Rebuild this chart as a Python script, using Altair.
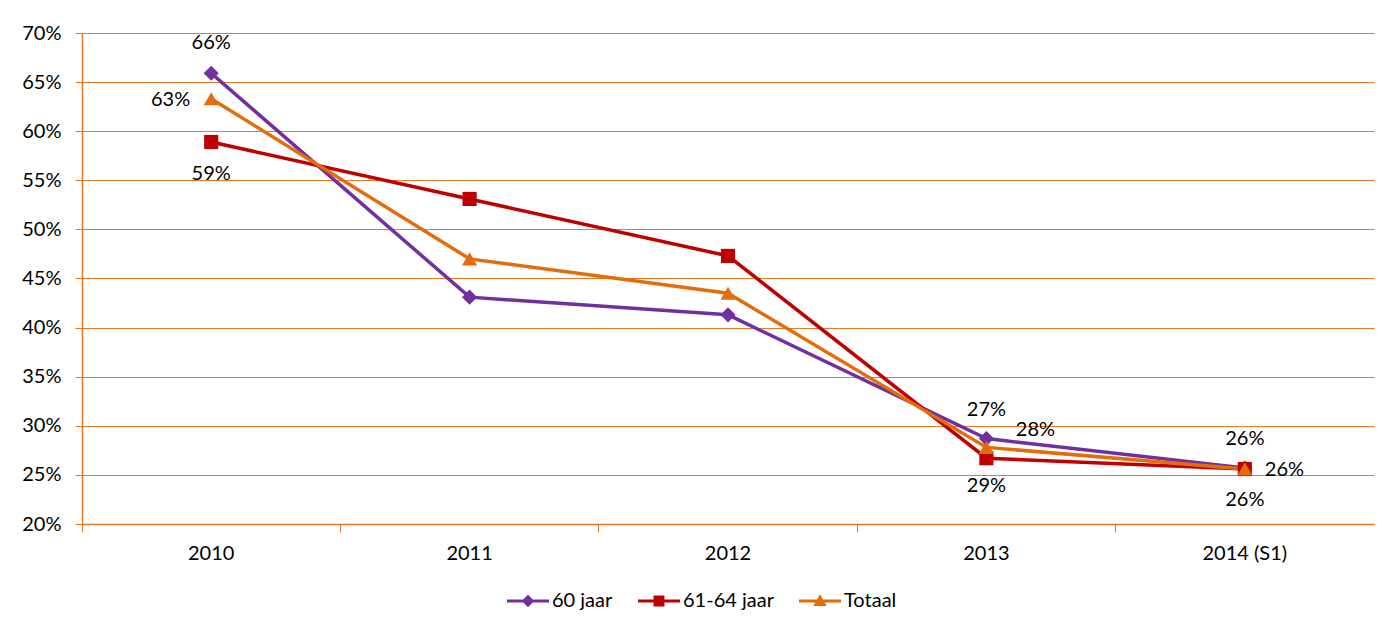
import altair as alt
import pandas as pd

years = ["2010", "2011", "2012", "2013", "2014 (S1)"]
series_names = ["60 jaar", "61-64 jaar", "Totaal"]
v_60 = [0.659, 0.431, 0.413, 0.287, 0.257]
v_6164 = [0.589, 0.531, 0.473, 0.267, 0.256]
v_tot = [0.633, 0.470, 0.435, 0.278, 0.256]
y_ticks = [0.20, 0.25, 0.30, 0.35, 0.40, 0.45, 0.50, 0.55, 0.60, 0.65, 0.70]

colors = ["#7030A0", "#C00000", "#E46C0A"]
GRID = "#E8792A"
FONT = "Lato"
FS = 20

rows = []
for s, vals in zip(series_names, [v_60, v_6164, v_tot]):
    for y, v in zip(years, vals):
        rows.append({"series": s, "year": y, "value": v})
df = pd.DataFrame(rows)

x_enc = alt.X("year:N", sort=years,
              scale=alt.Scale(type="band", domain=years, paddingInner=0, paddingOuter=0),
              axis=alt.Axis(title=None, bandPosition=0, labelAngle=0, grid=False,
                            domainColor=GRID, domainWidth=1.5, tickColor=GRID,
                            tickSize=8, labelPadding=11, labelFontSize=FS,
                            labelFont=FONT, labelColor="#000"))
y_enc = alt.Y("value:Q",
              scale=alt.Scale(domain=[0.2, 0.7], nice=False, zero=False),
              axis=alt.Axis(title=None, values=y_ticks, format=".0%", grid=True,
                            gridColor=GRID, gridWidth=1, domainColor=GRID,
                            domainWidth=1.5, tickColor=GRID, tickSize=7,
                            labelPadding=14, labelFontSize=FS, labelFont=FONT,
                            labelColor="#000"))
color_scale = alt.Scale(domain=series_names, range=colors)

base = alt.Chart(df)

lines = base.mark_line(strokeWidth=3.5).encode(
    x=x_enc, y=y_enc,
    color=alt.Color("series:N", scale=color_scale, legend=None))

point_shapes = {"60 jaar": ("diamond", 230), "61-64 jaar": ("square", 200), "Totaal": ("triangle-up", 230)}
points = []
for s in series_names:
    shp, sz = point_shapes[s]
    points.append(
        base.transform_filter(alt.datum.series == s)
        .mark_point(shape=shp, filled=True, size=sz, opacity=1, strokeWidth=0)
        .encode(x=x_enc, y=y_enc,
                color=alt.Color("series:N", scale=color_scale, legend=None)))

# label placement: (series, year, dx, dy, align)
label_spec = [
    ("60 jaar", "2010", 0, -30, "center"),
    ("Totaal", "2010", -21, 1, "right"),
    ("61-64 jaar", "2010", 0, 32, "center"),
    ("61-64 jaar", "2013", 0, -48, "center"),
    ("Totaal", "2013", 49, -17, "center"),
    ("60 jaar", "2013", 0, 47, "center"),
    ("60 jaar", "2014 (S1)", 0, -29, "center"),
    ("Totaal", "2014 (S1)", 20, 1, "left"),
    ("61-64 jaar", "2014 (S1)", 0, 31, "center"),
]
labels = []
for s, yr, dx, dy, al in label_spec:
    labels.append(
        base.transform_filter((alt.datum.series == s) & (alt.datum.year == yr))
        .mark_text(dx=dx, dy=dy, align=al, baseline="middle", fontSize=FS,
                   font=FONT, color="#000")
        .encode(x=x_enc, y=y_enc, text=alt.Text("value:Q", format=".0%")))

legend_paths = [
    "M-1,-0.075L1,-0.075L1,0.075L-1,0.075Z M0,-0.3L0.3,0L0,0.3L-0.3,0Z",
    "M-1,-0.075L1,-0.075L1,0.075L-1,0.075Z M-0.26,-0.26L0.26,-0.26L0.26,0.26L-0.26,0.26Z",
    "M-1,-0.075L1,-0.075L1,0.075L-1,0.075Z M0,-0.32L0.32,0.24L-0.32,0.24Z",
]
leg = alt.Legend(title=None, orient="none", legendX=425, legendY=547,
                 direction="horizontal", labelFont=FONT, labelFontSize=FS,
                 labelColor="#000", labelOffset=3, columnPadding=25,
                 symbolOpacity=1, symbolStrokeWidth=0, symbolSize=1764)
legend_layer = base.transform_filter("false").mark_point(
    filled=True, size=1764, opacity=1, strokeWidth=0).encode(
    x=x_enc, y=y_enc,
    color=alt.Color("series:N", scale=alt.Scale(domain=series_names, range=colors), legend=leg),
    shape=alt.Shape("series:N", scale=alt.Scale(domain=series_names, range=legend_paths), legend=leg))

data_layers = alt.layer(lines, *points, *labels)

chart = alt.layer(data_layers, legend_layer).resolve_scale(
    color="independent", shape="independent"
).resolve_legend(color="independent", shape="independent").properties(
    autosize=alt.AutoSizeParams(type="none"),
    padding={"left": 74, "top": 25, "right": 8, "bottom": 100},
    background="white",
).configure_view(stroke=None)

chart = chart.properties(width=1292, height=491)

chart.save("out.html", embed_options={"renderer": "svg", "actions": False})
